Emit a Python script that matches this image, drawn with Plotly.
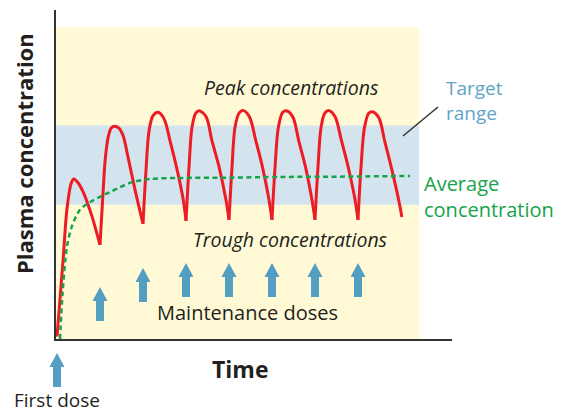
import plotly.graph_objects as go

# ---- data -------------------------------------------------------------
# dosing schedule (time in dosing intervals)
dose_times = [0, 1, 2, 3, 4, 5, 6, 7]

# therapeutic window (concentration, arbitrary units)
target_range = [41, 65]

# plasma concentration after repeated dosing
conc_time = [
    0.0, 0.14, 0.23, 0.33, 0.39, 0.48, 0.61, 0.81,
    1.0, 1.07, 1.12, 1.19, 1.26, 1.33, 1.44, 1.54, 1.65, 1.81,
    2.0, 2.07, 2.14, 2.23, 2.35, 2.49, 2.63, 2.79, 2.94,
    3.0, 3.07, 3.14, 3.23, 3.31, 3.47, 3.60, 3.77, 3.93,
    4.0, 4.07, 4.14, 4.24, 4.34, 4.48, 4.62, 4.78, 4.93,
    5.0, 5.07, 5.15, 5.25, 5.35, 5.49, 5.62, 5.78, 5.93,
    6.0, 6.07, 6.14, 6.23, 6.33, 6.47, 6.61, 6.77, 6.93,
    7.0, 7.07, 7.15, 7.25, 7.35, 7.49, 7.62, 7.78, 7.94, 8.02,
]
conc_value = [
    1.0, 24.0, 39.5, 47.5, 48.8, 47.8, 44.8, 37.6,
    28.8, 44.5, 54.5, 61.5, 64.2, 64.8, 64.2, 61.8, 55.5, 45.8,
    35.2, 51.5, 63.3, 67.9, 69.0, 67.0, 60.3, 51.8, 42.2,
    36.1, 52.4, 64.5, 68.8, 69.5, 67.6, 60.6, 52.4, 42.4,
    36.4, 52.4, 64.5, 68.9, 69.5, 67.5, 60.6, 52.3, 42.5,
    36.4, 52.2, 64.6, 69.0, 69.4, 67.4, 60.5, 52.4, 42.4,
    36.4, 52.5, 64.4, 68.8, 69.5, 67.6, 60.7, 52.5, 42.6,
    36.4, 52.3, 64.3, 68.7, 69.1, 67.2, 60.3, 52.0, 42.8, 37.3,
]

# average concentration
avg_time = [0.07, 0.13, 0.23, 0.34, 0.53, 0.77, 1.23, 1.70, 2.16, 2.86, 4.02, 5.19, 6.58, 8.21]
avg_value = [0.3, 14.2, 28.2, 34.2, 39.4, 41.8, 44.8, 47.6, 48.8, 49.1, 49.2, 49.4, 49.5, 49.7]

# ---- styling / layout -------------------------------------------------
W, H = 562, 414
L, R, T, B = 56, 110, 10, 75
PW, PH = W - L - R, H - T - B
X_RANGE = [(L - 57) / 43, (L + PW - 57) / 43]
Y_RANGE = [0.3, 100]

RED = "#ED1C24"
GREEN = "#17A34A"
BLUE_TXT = "#5FA4C6"
ARROW = "#549EC2"
YELLOW = "#FFF9D6"
BAND = "#D3E4EE"
INK = "#231F20"
FONT = "Open Sans"


def px(x):
    """horizontal pixel -> paper fraction"""
    return (x - L) / PW


def py(y):
    """vertical pixel -> paper fraction"""
    return (H - B - y) / PH


def time_to_paper(t):
    """x data value -> paper fraction along the x axis"""
    return (t - X_RANGE[0]) / (X_RANGE[1] - X_RANGE[0])


fig = go.Figure()

# concentration curve: one smooth arch per dosing interval, sharp at each dose
starts = [conc_time.index(float(d)) for d in dose_times]
ends = starts[1:] + [len(conc_time) - 1]
for s, e in zip(starts, ends):
    fig.add_trace(go.Scatter(
        x=conc_time[s:e + 1], y=conc_value[s:e + 1],
        mode="lines", line=dict(color=RED, width=3, shape="spline", smoothing=0.9),
        hoverinfo="skip", showlegend=False,
    ))

fig.add_trace(go.Scatter(
    x=avg_time, y=avg_value, mode="lines",
    line=dict(color=GREEN, width=2.5, dash="5px,3.5px", shape="spline", smoothing=0.8),
    hoverinfo="skip", showlegend=False,
))

shapes = [
    # background zones
    dict(type="rect", xref="x", yref="y", x0=-0.05, x1=8.42, y0=0, y1=94.8,
         fillcolor=YELLOW, line_width=0, layer="below"),
    dict(type="rect", xref="x", yref="y", x0=-0.05, x1=8.42,
         y0=target_range[0], y1=target_range[1],
         fillcolor=BAND, line_width=0, layer="below"),
    # pointer to the target band
    dict(type="line", xref="paper", yref="paper",
         x0=px(403), y0=py(136), x1=px(438), y1=py(107),
         line=dict(color="#333333", width=1.5)),
]

# dose arrows (bottom of each arrow, in pixels)
arrow_base_px = [387, 321, 302, 297, 297, 297, 297, 297]
arrow_path = "M -4 0 L 4 0 L 4 20 L 7.5 20 L 0 34 L -7.5 20 L -4 20 Z"
for d, base in zip(dose_times, arrow_base_px):
    shapes.append(dict(
        type="path", xref="paper", yref="paper",
        xsizemode="pixel", ysizemode="pixel",
        xanchor=time_to_paper(d), yanchor=py(base),
        path=arrow_path, fillcolor=ARROW, line_width=0, layer="above",
    ))

ann = [
    dict(text="<i>Peak concentrations</i>", x=px(291), y=py(87), size=19.5, color=INK),
    dict(text="<i>Trough concentrations</i>", x=px(290), y=py(239), size=19.5, color=INK),
    dict(text="Maintenance doses", x=px(247), y=py(312), size=20, color=INK),
    dict(text="<b>Time</b>", x=px(240), y=py(369), size=23, color=INK),
    dict(text="First dose", x=px(57), y=py(400), size=19, color=INK),
]
annotations = [
    dict(text=a["text"], x=a["x"], y=a["y"], xref="paper", yref="paper",
         xanchor="center", yanchor="middle", showarrow=False,
         font=dict(family=FONT, size=a["size"], color=a["color"]))
    for a in ann
]
annotations += [
    dict(text="<b>Plasma concentration</b>", x=px(24), y=py(154),
         xref="paper", yref="paper", xanchor="center", yanchor="middle",
         textangle=-90, showarrow=False,
         font=dict(family=FONT, size=22, color=INK)),
    dict(text="Target<br>range", x=px(444), y=py(101), xref="paper", yref="paper",
         xanchor="left", yanchor="middle", align="left", showarrow=False,
         font=dict(family=FONT, size=19, color=BLUE_TXT)),
    dict(text="Average<br>concentration", x=px(422), y=py(196), xref="paper", yref="paper",
         xanchor="left", yanchor="middle", align="left", showarrow=False,
         font=dict(family=FONT, size=20, color=GREEN)),
]

axis_common = dict(showgrid=False, zeroline=False, showticklabels=False, ticks="",
                   showline=True, linecolor="#333333", linewidth=2, fixedrange=True)

fig.update_layout(
    width=W, height=H,
    margin=dict(l=L, r=R, t=T, b=B, pad=0),
    paper_bgcolor="white", plot_bgcolor="white",
    xaxis=dict(range=X_RANGE, **axis_common),
    yaxis=dict(range=Y_RANGE, **axis_common),
    shapes=shapes, annotations=annotations,
    font=dict(family=FONT),
)

fig.write_html("out.html")
